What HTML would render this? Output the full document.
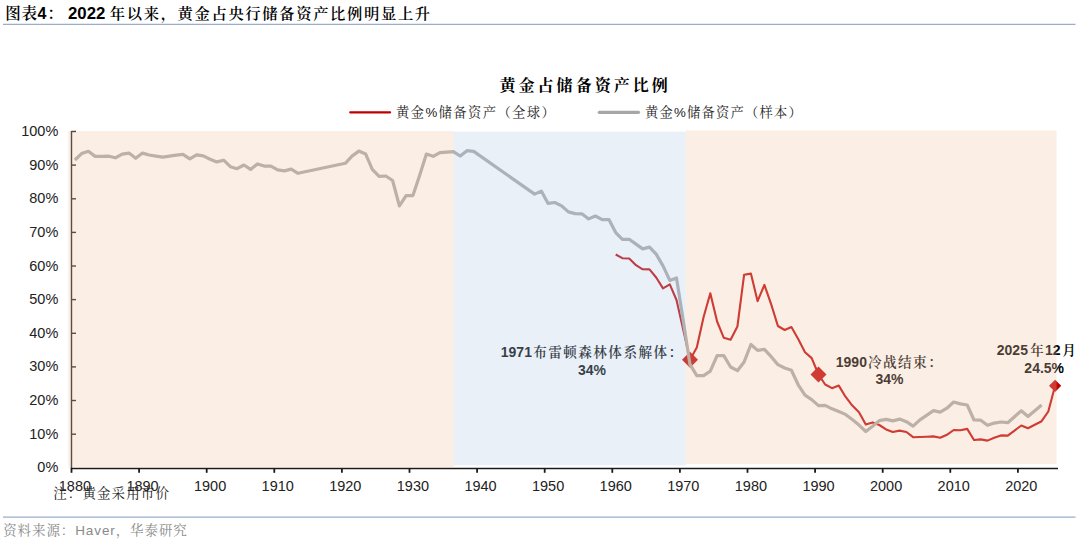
<!DOCTYPE html>
<html><head><meta charset="utf-8"><style>
html,body{margin:0;padding:0;background:#fff;}
body{width:1080px;height:540px;overflow:hidden;position:relative;}
svg{position:absolute;left:0;top:0;}
</style></head><body>
<svg width="1080" height="540" viewBox="0 0 1080 540">
<rect width="1080" height="540" fill="#fff"/>
<!-- header -->
<text x="5.2" y="18.8" font-family='"Liberation Sans", "Noto Serif CJK SC", serif' font-size="15.5" font-weight="600" fill="#000" letter-spacing="0.7">图表<tspan font-weight="bold" font-size="16">4</tspan>：</text>
<text x="68" y="18.8" font-family='"Liberation Sans", "Noto Serif CJK SC", serif' font-size="16.8" font-weight="bold" fill="#000">2022</text>
<text x="109.8" y="18.6" font-family='"Liberation Sans", "Noto Serif CJK SC", serif' font-size="15.3" font-weight="600" fill="#000" letter-spacing="1.65">年以来，黄金占央行储备资产比例明显上升</text>
<line x1="3" y1="24.3" x2="1075.5" y2="24.3" stroke="#9aaecb" stroke-width="1.3"/>
<!-- chart title -->
<text x="585.2" y="90.8" font-family='"Liberation Sans", "Noto Serif CJK SC", serif' font-size="16" font-weight="bold" fill="#000" text-anchor="middle" letter-spacing="3.05">黄金占储备资产比例</text>
<!-- legend -->
<line x1="350.2" y1="112.3" x2="390.1" y2="112.3" stroke="#C00000" stroke-width="2.2" stroke-linecap="round"/>
<text x="396" y="117" font-family='"Liberation Sans", "Noto Serif CJK SC", serif' font-size="13.3" fill="#222" letter-spacing="1.4">黄金%储备资产（全球）</text>
<line x1="599.3" y1="112.3" x2="638.5" y2="112.3" stroke="#A6A6A6" stroke-width="3.2" stroke-linecap="round"/>
<text x="645" y="117" font-family='"Liberation Sans", "Noto Serif CJK SC", serif' font-size="13.3" fill="#222" letter-spacing="1.2">黄金%储备资产（样本）</text>
<!-- axes labels -->
<g font-family='"Liberation Sans", "Noto Serif CJK SC", sans-serif' font-size="14.5" fill="#222"><text transform="translate(58.3 472.3) scale(1 1.045)" text-anchor="end">0%</text><text transform="translate(58.3 438.7) scale(1 1.045)" text-anchor="end">10%</text><text transform="translate(58.3 405.0) scale(1 1.045)" text-anchor="end">20%</text><text transform="translate(58.3 371.4) scale(1 1.045)" text-anchor="end">30%</text><text transform="translate(58.3 337.8) scale(1 1.045)" text-anchor="end">40%</text><text transform="translate(58.3 304.1) scale(1 1.045)" text-anchor="end">50%</text><text transform="translate(58.3 270.5) scale(1 1.045)" text-anchor="end">60%</text><text transform="translate(58.3 236.9) scale(1 1.045)" text-anchor="end">70%</text><text transform="translate(58.3 203.3) scale(1 1.045)" text-anchor="end">80%</text><text transform="translate(58.3 169.6) scale(1 1.045)" text-anchor="end">90%</text><text transform="translate(58.3 136.0) scale(1 1.045)" text-anchor="end">100%</text><text transform="translate(74.9 490.7) scale(1 1.045)" text-anchor="middle">1880</text><text transform="translate(142.5 490.7) scale(1 1.045)" text-anchor="middle">1890</text><text transform="translate(210.1 490.7) scale(1 1.045)" text-anchor="middle">1900</text><text transform="translate(277.7 490.7) scale(1 1.045)" text-anchor="middle">1910</text><text transform="translate(345.3 490.7) scale(1 1.045)" text-anchor="middle">1920</text><text transform="translate(412.9 490.7) scale(1 1.045)" text-anchor="middle">1930</text><text transform="translate(480.5 490.7) scale(1 1.045)" text-anchor="middle">1940</text><text transform="translate(548.1 490.7) scale(1 1.045)" text-anchor="middle">1950</text><text transform="translate(615.7 490.7) scale(1 1.045)" text-anchor="middle">1960</text><text transform="translate(683.3 490.7) scale(1 1.045)" text-anchor="middle">1970</text><text transform="translate(750.9 490.7) scale(1 1.045)" text-anchor="middle">1980</text><text transform="translate(818.5 490.7) scale(1 1.045)" text-anchor="middle">1990</text><text transform="translate(886.1 490.7) scale(1 1.045)" text-anchor="middle">2000</text><text transform="translate(953.7 490.7) scale(1 1.045)" text-anchor="middle">2010</text><text transform="translate(1021.3 490.7) scale(1 1.045)" text-anchor="middle">2020</text></g>
<!-- axes -->
<g stroke="#1a1a1a" stroke-width="1.4" fill="none">
<line x1="71.5" y1="131" x2="71.5" y2="468.6"/>
<line x1="70.8" y1="468.4" x2="1058" y2="468.4" stroke-width="1.5"/>
<line x1="71.5" y1="434.2" x2="76" y2="434.2"/><line x1="71.5" y1="400.5" x2="76" y2="400.5"/><line x1="71.5" y1="366.9" x2="76" y2="366.9"/><line x1="71.5" y1="333.3" x2="76" y2="333.3"/><line x1="71.5" y1="299.6" x2="76" y2="299.6"/><line x1="71.5" y1="266.0" x2="76" y2="266.0"/><line x1="71.5" y1="232.4" x2="76" y2="232.4"/><line x1="71.5" y1="198.8" x2="76" y2="198.8"/><line x1="71.5" y1="165.1" x2="76" y2="165.1"/><line x1="71.5" y1="131.5" x2="76" y2="131.5"/><line x1="71.5" y1="468.4" x2="71.5" y2="472.8" stroke-width="1.8"/><line x1="139.1" y1="468.4" x2="139.1" y2="472.8" stroke-width="1.8"/><line x1="206.7" y1="468.4" x2="206.7" y2="472.8" stroke-width="1.8"/><line x1="274.3" y1="468.4" x2="274.3" y2="472.8" stroke-width="1.8"/><line x1="341.9" y1="468.4" x2="341.9" y2="472.8" stroke-width="1.8"/><line x1="409.5" y1="468.4" x2="409.5" y2="472.8" stroke-width="1.8"/><line x1="477.1" y1="468.4" x2="477.1" y2="472.8" stroke-width="1.8"/><line x1="544.7" y1="468.4" x2="544.7" y2="472.8" stroke-width="1.8"/><line x1="612.3" y1="468.4" x2="612.3" y2="472.8" stroke-width="1.8"/><line x1="679.9" y1="468.4" x2="679.9" y2="472.8" stroke-width="1.8"/><line x1="747.5" y1="468.4" x2="747.5" y2="472.8" stroke-width="1.8"/><line x1="815.1" y1="468.4" x2="815.1" y2="472.8" stroke-width="1.8"/><line x1="882.7" y1="468.4" x2="882.7" y2="472.8" stroke-width="1.8"/><line x1="950.3" y1="468.4" x2="950.3" y2="472.8" stroke-width="1.8"/><line x1="1017.9" y1="468.4" x2="1017.9" y2="472.8" stroke-width="1.8"/>
</g>
<!-- series -->
<polyline points="615.7,254.5 622.4,258.2 629.2,258.5 636.0,265.2 642.7,269.3 649.5,269.4 656.2,277.5 663.0,288.4 669.8,284.4 676.5,300.0 683.3,330.0 690.0,359.7 696.8,347.4 703.6,317.0 710.3,293.3 717.1,321.5 723.8,337.8 730.6,339.8 737.4,326.5 744.1,274.8 750.9,273.6 757.6,301.2 764.4,284.9 771.2,304.4 777.9,326.0 784.7,330.0 791.4,327.0 798.2,338.9 805.0,352.2 811.7,358.1 818.5,374.5 825.2,384.5 832.0,388.2 838.8,385.6 845.5,396.7 852.3,405.6 859.0,412.2 865.8,424.5 872.6,422.4 879.3,425.0 886.1,429.4 892.8,432.0 899.6,430.6 906.4,432.0 913.1,437.2 919.9,437.0 926.6,436.7 933.4,436.4 940.2,437.8 946.9,434.8 953.7,430.0 960.4,430.2 967.2,428.9 974.0,440.0 980.7,439.4 987.5,440.6 994.2,437.8 1001.0,435.4 1007.8,435.6 1014.5,430.6 1021.3,425.5 1028.0,428.3 1041.6,421.2 1048.3,411.5 1055.1,385.8" fill="none" stroke="#C00000" stroke-width="2.1" stroke-linejoin="round"/>
<path d="M690.0 351.7L698.0 359.7L690.0 367.7L682.0 359.7Z" fill="#C00000"/><path d="M818.5 366.5L826.5 374.5L818.5 382.5L810.5 374.5Z" fill="#C00000"/><path d="M1055.1 379.7L1061.2 385.8L1055.1 391.9L1049.0 385.8Z" fill="#C00000"/>
<polyline points="74.9,160.0 81.6,153.6 88.4,151.3 95.2,156.4 101.9,156.3 108.7,156.2 115.4,157.8 122.2,154.1 129.0,153.1 135.7,158.3 142.5,153.1 149.2,155.0 156.0,156.1 162.8,157.2 169.5,156.2 176.3,155.2 183.0,154.4 189.8,158.9 196.6,154.8 203.3,155.9 210.1,159.2 216.8,161.9 223.6,160.2 230.4,166.7 237.1,168.7 243.9,165.0 250.6,169.4 257.4,163.9 264.2,166.1 270.9,166.1 277.7,169.8 284.4,170.9 291.2,169.1 298.0,173.3 345.3,163.3 352.0,156.1 358.8,151.1 365.6,153.9 372.3,169.4 379.1,176.4 385.8,176.0 392.6,180.5 399.4,205.9 406.1,195.6 412.9,195.6 419.6,175.6 426.4,154.1 433.2,156.3 439.9,152.6 446.7,152.1 453.4,151.6 460.2,156.0 467.0,150.7 473.7,151.4 534.6,194.1 541.3,191.1 548.1,203.4 554.8,202.5 561.6,205.9 568.4,211.9 575.1,213.6 581.9,213.8 588.6,218.9 595.4,216.0 602.2,219.6 608.9,219.6 615.7,232.6 622.4,239.3 629.2,239.3 636.0,244.1 642.7,248.9 649.5,247.1 656.2,254.1 663.0,265.9 669.8,280.4 676.5,277.9 683.3,321.0 690.0,364.4 696.8,375.6 703.6,375.6 710.3,371.1 717.1,355.6 723.8,355.6 730.6,367.0 737.4,370.7 744.1,362.0 750.9,344.5 757.6,350.4 764.4,349.3 771.2,356.7 777.9,364.6 784.7,368.0 791.4,370.2 798.2,384.8 805.0,395.2 811.7,399.6 818.5,405.6 825.2,405.3 832.0,408.8 838.8,411.5 845.5,414.4 852.3,419.6 859.0,425.1 865.8,431.5 872.6,426.3 879.3,420.6 886.1,419.4 892.8,420.9 899.6,419.1 906.4,421.7 913.1,426.1 919.9,419.8 926.6,415.3 933.4,410.6 940.2,412.1 946.9,408.2 953.7,402.0 960.4,403.9 967.2,405.0 974.0,420.0 980.7,420.2 987.5,425.3 994.2,423.1 1001.0,422.0 1007.8,422.7 1014.5,416.7 1021.3,410.8 1028.0,416.4 1041.6,405.0" fill="none" stroke="#A6A6A6" stroke-width="3.2" stroke-linejoin="round"/>
<!-- annotations -->
<g font-family='"Liberation Sans", "Noto Serif CJK SC", serif' font-size="14" font-weight="bold" fill="#000">
<text x="500.8" y="356.8"><tspan>1971</tspan><tspan font-weight="600" font-size="13.6" letter-spacing="1.45" dx="1.2">布雷顿森林体系解体：</tspan></text>
<text x="592" y="374.9" text-anchor="middle">34%</text>
<text x="835.8" y="366.5"><tspan>1990</tspan><tspan font-weight="600" font-size="13.6" letter-spacing="1.45" dx="1">冷战结束：</tspan></text>
<text x="889.5" y="384.2" text-anchor="middle">34%</text>
<text x="996.8" y="355.2"><tspan>2025</tspan><tspan font-weight="600" font-size="13.6" dx="2.2">年</tspan><tspan dx="1.2">12</tspan><tspan font-weight="600" font-size="13.6" dx="1.8">月</tspan></text>
<text x="1044.2" y="373.1" text-anchor="middle">24.5%</text>
</g>
<!-- shading overlays -->
<rect x="68.3" y="131.1" width="385.6" height="336.6" fill="rgb(242,198,168)" fill-opacity="0.3"/>
<rect x="453.9" y="131.7" width="231.7" height="333.6" fill="rgb(182,205,232)" fill-opacity="0.3"/>
<rect x="685.6" y="130.4" width="371" height="333.5" fill="rgb(242,198,168)" fill-opacity="0.3"/>

<!-- notes -->
<text x="53.2" y="497.8" font-family='"Liberation Sans", "Noto Serif CJK SC", serif' font-size="13.5" fill="#222" letter-spacing="1.1">注：黄金采用市价</text>
<line x1="3" y1="517.2" x2="1075.5" y2="517.2" stroke="#9aaecb" stroke-width="1.3"/>
<text x="3.2" y="535" font-family='"Liberation Sans", "Noto Serif CJK SC", serif' font-size="13.5" fill="#8a8a8a" letter-spacing="0.9">资料来源：Haver，华泰研究</text>
</svg>
</body></html>
